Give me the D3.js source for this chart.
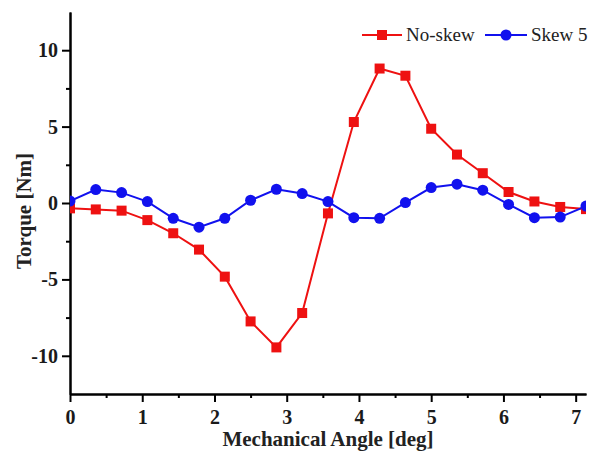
<!DOCTYPE html>
<html><head><meta charset="utf-8">
<script src="https://cdn.jsdelivr.net/npm/d3@7"></script>
<style>body{margin:0;background:#fff}svg{display:block}</style>
</head><body>
<svg id="c" width="596" height="453"></svg>
<script>
const angles = [0,0.357,0.714,1.071,1.429,1.786,2.143,2.5,2.857,3.214,3.571,3.929,4.286,4.643,5.0,5.357,5.714,6.071,6.429,6.786,7.143];
const noSkew = [-0.35,-0.42,-0.5,-1.12,-1.98,-3.05,-4.82,-7.75,-9.45,-7.2,-0.68,5.3,8.8,8.33,4.86,3.17,1.95,0.72,0.1,-0.26,-0.4];
const skew5 = [0.13,0.88,0.68,0.09,-1.0,-1.58,-1.0,0.18,0.9,0.62,0.09,-0.96,-1.0,0.03,1.01,1.23,0.84,-0.09,-0.96,-0.92,-0.2];
const xTicks = [0,1,2,3,4,5,6,7];
const yTicks = [-10,-5,0,5,10];
const seriesNames = ["No-skew","Skew 5"];
const colors = ["#ee1111","#1111ee"];

const svg = d3.select("#c");
const L=70, R=586, T=12, B=394;
const x = d3.scaleLinear().domain([0,7.143]).range([L,R]);
const y = d3.scaleLinear().domain([-12.5,12.5]).range([B,T]);
const serif = "Liberation Serif, Times New Roman, serif";

svg.append("defs").append("clipPath").attr("id","clip")
  .append("rect").attr("x",L).attr("y",T).attr("width",R-L).attr("height",B-T);

const fmt = d => String(d);
const xAx = svg.append("g").attr("transform",`translate(0,${B})`)
  .call(d3.axisBottom(x).tickValues(xTicks).tickFormat(fmt).tickSize(8).tickSizeOuter(0));
const xMin = svg.append("g").attr("transform",`translate(0,${B})`)
  .call(d3.axisBottom(x).tickValues(d3.range(0.5,7.1,1)).tickFormat("").tickSize(4).tickSizeOuter(0));
const yAx = svg.append("g").attr("transform",`translate(${L},0)`)
  .call(d3.axisLeft(y).tickValues(yTicks).tickFormat(fmt).tickSize(8).tickSizeOuter(0));
const yMin = svg.append("g").attr("transform",`translate(${L},0)`)
  .call(d3.axisLeft(y).tickValues([-7.5,-2.5,2.5,7.5]).tickFormat("").tickSize(4).tickSizeOuter(0));
[xAx,xMin,yAx,yMin].forEach(g=>{
  g.selectAll("path,line").attr("stroke","#000").attr("stroke-width",2);
  g.selectAll("text").attr("font-family",serif).attr("font-weight","bold").attr("font-size",20).attr("fill","#1a1a1a");
});
yAx.selectAll("text").attr("x",-12);
xAx.selectAll("text").attr("y",16);

svg.append("text").attr("x",(L+R)/2).attr("y",446).attr("text-anchor","middle")
  .attr("font-family",serif).attr("font-weight","bold").attr("font-size",21).attr("fill","#222")
  .text("Mechanical Angle [deg]");
svg.append("text").attr("transform",`translate(31,211) rotate(-90)`).attr("text-anchor","middle")
  .attr("font-family",serif).attr("font-weight","bold").attr("font-size",21).attr("fill","#222")
  .text("Torque [Nm]");

const plot = svg.append("g").attr("clip-path","url(#clip)");
const line = d3.line().x((d,i)=>x(angles[i])).y(d=>y(d));
[noSkew,skew5].forEach((s,si)=>{
  plot.append("path").datum(s).attr("d",line).attr("fill","none").attr("stroke",colors[si]).attr("stroke-width",2);
});
plot.selectAll("rect.m").data(noSkew).enter().append("rect")
  .attr("x",(d,i)=>x(angles[i])-5).attr("y",d=>y(d)-5).attr("width",10).attr("height",10).attr("fill",colors[0]);
plot.selectAll("circle.m").data(skew5).enter().append("circle")
  .attr("cx",(d,i)=>x(angles[i])).attr("cy",d=>y(d)).attr("r",5.5).attr("fill",colors[1]);

const lg = svg.append("g").attr("font-family",serif).attr("font-size",19).attr("fill","#222");
const items=[{x0:362,x1:402,tx:406},{x0:485,x1:527,tx:531}];
items.forEach((it,i)=>{
  lg.append("line").attr("x1",it.x0).attr("x2",it.x1).attr("y1",35).attr("y2",35).attr("stroke",colors[i]).attr("stroke-width",2);
  const cx=(it.x0+it.x1)/2;
  if(i===0) lg.append("rect").attr("x",cx-5).attr("y",30).attr("width",10).attr("height",10).attr("fill",colors[0]);
  else lg.append("circle").attr("cx",cx).attr("cy",35).attr("r",5.5).attr("fill",colors[1]);
  lg.append("text").attr("x",it.tx).attr("y",41).text(seriesNames[i]);
});
</script>
</body></html>
